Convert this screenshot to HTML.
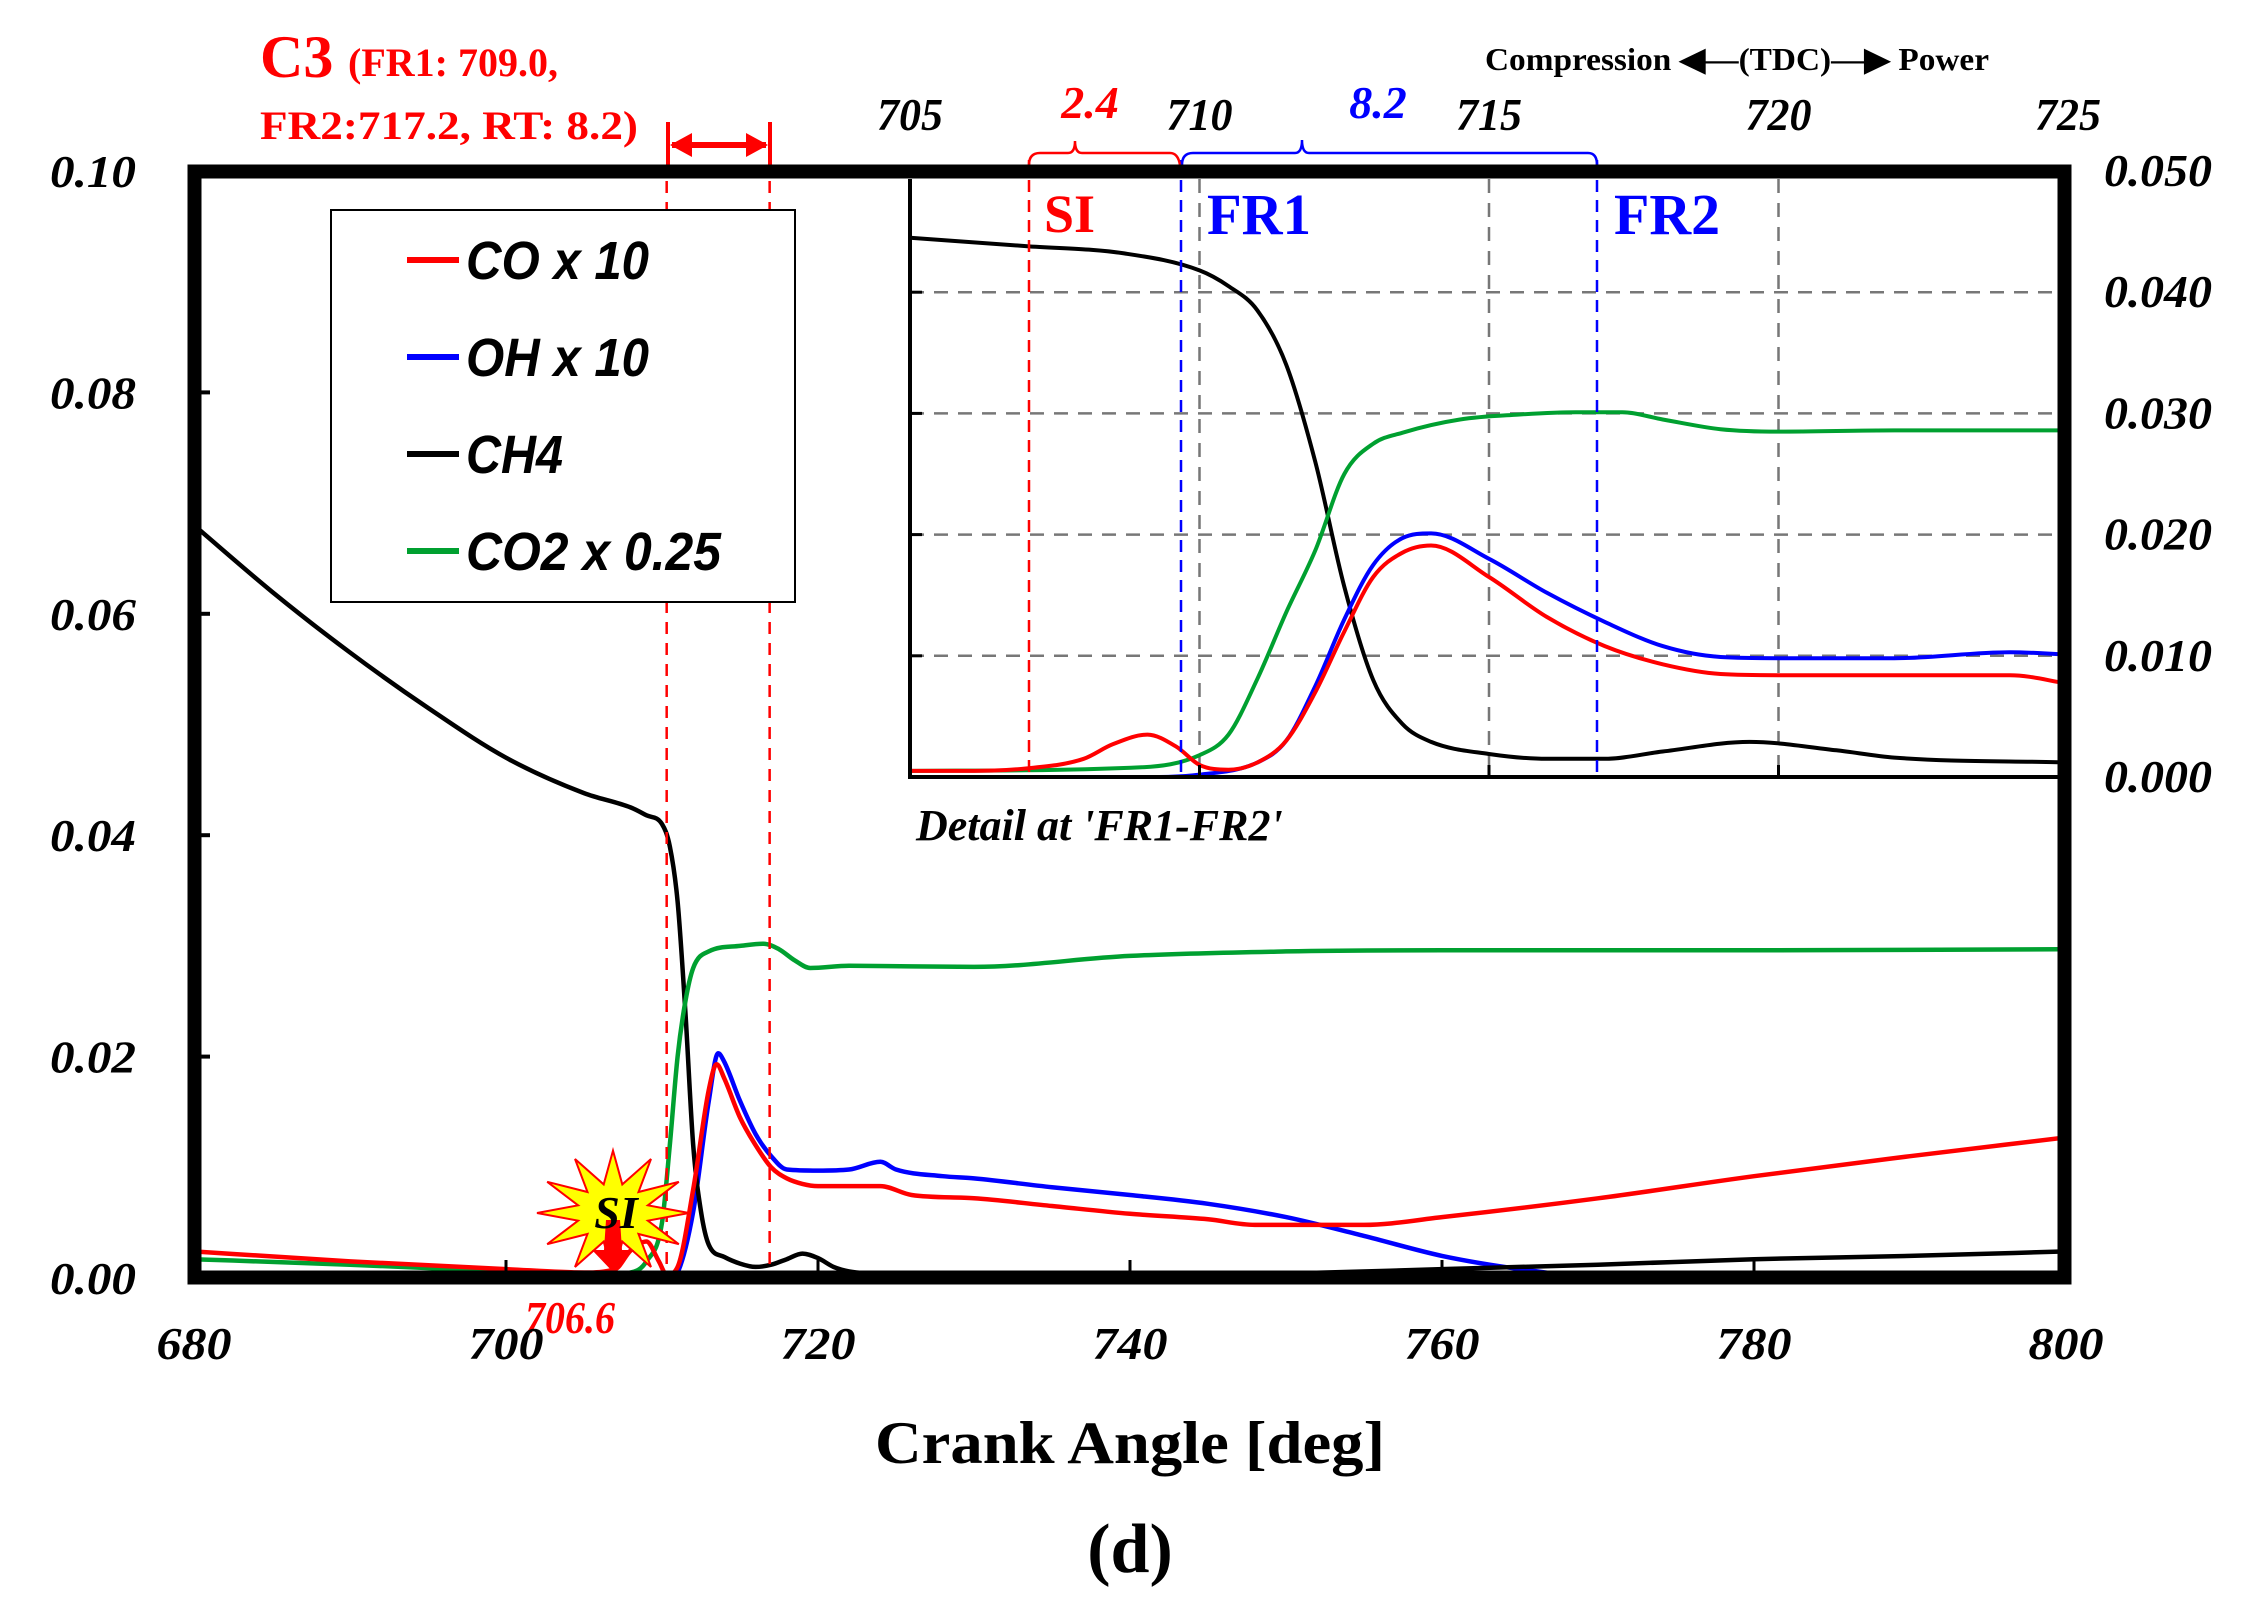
<!DOCTYPE html>
<html><head><meta charset="utf-8"><style>
html,body{margin:0;padding:0;background:#fff;width:2251px;height:1597px;overflow:hidden}
svg{display:block}
.tk{font-family:"Liberation Serif",serif;font-weight:bold;font-style:italic;font-size:46px}
.lg{font-family:"Liberation Sans Narrow","Liberation Sans",sans-serif;font-weight:bold;font-style:italic;font-size:54px;fill:#000}
.sf{font-family:"Liberation Serif",serif;font-weight:bold}
</style></head><body>
<svg id="chart" width="2251" height="1597" viewBox="0 0 2251 1597" xmlns="http://www.w3.org/2000/svg">
<defs>
<clipPath id="mainClip"><rect x="201" y="179" width="1857" height="1093"/></clipPath>
<clipPath id="insetClip"><rect x="910" y="150" width="1148" height="629"/></clipPath>
</defs>
<g id="main-lines" clip-path="url(#mainClip)"></g>
<rect x="910" y="179" width="1148" height="598" fill="#fff"/>
<g id="inset-grid"></g>
<g id="inset-lines" clip-path="url(#insetClip)"></g>
<g id="overlay"></g>
<rect x="194.5" y="171.5" width="1870" height="1106" fill="none" stroke="#000" stroke-width="14"/>
<g id="axes"></g>
<g>
<rect x="331" y="210" width="464" height="392" fill="#fff" stroke="#000" stroke-width="2"/>
<line x1="407" y1="260" x2="459" y2="260" stroke="#f00" stroke-width="6"/>
<text class="lg" x="466" y="279" textLength="183" lengthAdjust="spacingAndGlyphs">CO x 10</text>
<line x1="407" y1="357" x2="459" y2="357" stroke="#00f" stroke-width="6"/>
<text class="lg" x="466" y="376" textLength="183" lengthAdjust="spacingAndGlyphs">OH x 10</text>
<line x1="407" y1="454" x2="459" y2="454" stroke="#000" stroke-width="6"/>
<text class="lg" x="466" y="473" textLength="97" lengthAdjust="spacingAndGlyphs">CH4</text>
<line x1="407" y1="551" x2="459" y2="551" stroke="#00a030" stroke-width="6"/>
<text class="lg" x="466" y="570" textLength="255" lengthAdjust="spacingAndGlyphs">CO2 x 0.25</text>
</g>
<text class="sf" x="260" y="77" fill="#f00" font-size="60">C3</text>
<text class="sf" x="348" y="76" fill="#f00" font-size="40">(FR1: 709.0,</text>
<text class="sf" x="260" y="139" fill="#f00" font-size="40" textLength="378" lengthAdjust="spacingAndGlyphs">FR2:717.2, RT: 8.2)</text>
<text class="sf" x="1485" y="70" font-size="32" textLength="504" lengthAdjust="spacingAndGlyphs">Compression ◀—(TDC)—▶ Power</text>
<text class="sf" x="916" y="840" font-size="44" font-style="italic">Detail at 'FR1-FR2'</text>
<text class="sf" x="1130" y="1463" font-size="60" text-anchor="middle" textLength="510" lengthAdjust="spacingAndGlyphs">Crank Angle [deg]</text>
<text class="sf" x="1130" y="1572" font-size="70" font-weight="normal" text-anchor="middle">(d)</text>
</svg>
<script>
const NS="http://www.w3.org/2000/svg";
// ---- main chart data ----
const mainTicksX=[680,700,720,740,760,780,800];
const mainTicksY=[0,0.02,0.04,0.06,0.08,0.10];
const mainTickLabelsY=["0.00","0.02","0.04","0.06","0.08","0.10"];
const ch4X=[680,685,690,695,700,705,708,709,710,710.5,711,711.5,712,712.5,713,714,715,716,717,718,719,720,721,722,725,730,740,750,760,770,780,790,800];
const ch4Y=[0.068,0.062,0.0565,0.0515,0.047,0.0438,0.0425,0.0418,0.041,0.039,0.034,0.024,0.012,0.006,0.003,0.0019,0.0013,0.001,0.0012,0.0017,0.0022,0.0018,0.001,0.0006,0.0003,0.0002,0.0002,0.0004,0.0008,0.0012,0.0017,0.002,0.0024];
const co2X=[680,690,700,706,708,709,710,710.5,711,711.5,712,713,715,716.5,717.5,718.5,719.5,722,730,740,750,760,780,800];
const co2Y=[0.0017,0.0012,0.0006,0.0003,0.0005,0.0015,0.005,0.012,0.02,0.025,0.028,0.0295,0.030,0.0302,0.0297,0.0287,0.028,0.0282,0.0281,0.0291,0.0295,0.0296,0.0296,0.0297];
const coX=[680,690,700,705,707,708,709,709.8,710.3,711,712,713,713.5,714,715,716,717,718,719,720,724,726,730,735,740,745,748,755,760,770,780,790,800];
const coY=[0.0024,0.0015,0.0008,0.0005,0.0008,0.0025,0.0033,0.0015,0.0003,0.001,0.008,0.017,0.0193,0.018,0.0145,0.012,0.010,0.009,0.0085,0.0083,0.0083,0.0075,0.0072,0.0065,0.0058,0.0053,0.0048,0.0048,0.0055,0.0072,0.0092,0.011,0.0127];
const ohX=[680,710.5,711,712,713,713.6,714,715,716,717,718,720,722,724,725,728,730,735,740,745,750,755,760,765,770,800];
const ohY=[0,0,0.0005,0.006,0.016,0.0203,0.0195,0.016,0.013,0.011,0.0098,0.0097,0.0098,0.0105,0.0098,0.0092,0.009,0.0082,0.0075,0.0067,0.0055,0.0038,0.002,0.0008,0.0001,0];
// ---- inset data ----
const insTicksX=[705,710,715,720,725];
const insTicksY=[0,0.01,0.02,0.03,0.04,0.05];
const insTickLabelsY=["0.000","0.010","0.020","0.030","0.040","0.050"];
const iCh4X=[705,707,708.7,710,710.5,711,711.5,712,712.5,713,713.5,714,715,716,717,718,719.5,721,722,725];
const iCh4Y=[0.0445,0.0438,0.0432,0.0418,0.0405,0.0385,0.034,0.026,0.0157,0.008,0.0044,0.0029,0.0019,0.0015,0.0015,0.0021,0.0029,0.0022,0.0016,0.0012];
const iCo2X=[705,709,710,710.5,711,711.5,712,712.5,713,713.5,714.5,715.5,716.5,717.3,718,719,720,722,725];
const iCo2Y=[0.0005,0.0008,0.0018,0.0035,0.0081,0.0136,0.0187,0.025,0.0275,0.0284,0.0295,0.0299,0.0301,0.0301,0.0295,0.0287,0.0285,0.0286,0.0286];
const iCoX=[705,706,707,708,708.5,709.1,709.6,710,710.5,711,711.5,712,712.5,713,713.5,714,715,716,717,718,719,720,722,724,725];
const iCoY=[0.0005,0.0005,0.0007,0.0015,0.0027,0.0035,0.0025,0.001,0.0006,0.0012,0.003,0.007,0.012,0.0165,0.0185,0.0191,0.0165,0.0132,0.0108,0.0093,0.0085,0.0084,0.0084,0.0084,0.0077];
const iOhX=[705,709,710,711,711.5,712,712.5,713,713.5,714,715,716,717,718,719,720,722,724,725];
const iOhY=[0,0,0.0002,0.0012,0.003,0.0075,0.013,0.0175,0.0197,0.0201,0.018,0.0152,0.0128,0.0108,0.0099,0.0098,0.0098,0.0103,0.0101];

const mx=v=>194+(v-680)*(1872/120), my=v=>1278-v*11070;
const ix=v=>910+(v-705)*57.9, iy=v=>777-v*12120;

// monotone cubic (Fritsch-Carlson) path
function path(xs,ys,fx,fy){
  const n=xs.length,X=xs.map(fx),Y=ys.map(fy),d=[],m=new Array(n);
  for(let i=0;i<n-1;i++)d.push((Y[i+1]-Y[i])/(X[i+1]-X[i]));
  m[0]=d[0];m[n-1]=d[n-2];
  for(let i=1;i<n-1;i++){m[i]=(d[i-1]*d[i]<=0)?0:(d[i-1]+d[i])/2;}
  for(let i=0;i<n-1;i++){
    if(d[i]===0){m[i]=0;m[i+1]=0;continue;}
    const a=m[i]/d[i],b=m[i+1]/d[i],s=a*a+b*b;
    if(s>9){const t=3/Math.sqrt(s);m[i]=t*a*d[i];m[i+1]=t*b*d[i];}
  }
  let p="M"+X[0].toFixed(1)+","+Y[0].toFixed(1);
  for(let i=0;i<n-1;i++){
    const h=(X[i+1]-X[i])/3;
    p+=" C"+(X[i]+h).toFixed(1)+","+(Y[i]+m[i]*h).toFixed(1)+" "+(X[i+1]-h).toFixed(1)+","+(Y[i+1]-m[i+1]*h).toFixed(1)+" "+X[i+1].toFixed(1)+","+Y[i+1].toFixed(1);
  }
  return p;
}
function mk(parent,tag,attrs){const e=document.createElementNS(NS,tag);for(const k in attrs)e.setAttribute(k,attrs[k]);parent.appendChild(e);return e;}

const ml=document.getElementById("main-lines");
[[ohX,ohY,"#00f","oh"],[ch4X,ch4Y,"#000","ch4"],[co2X,co2Y,"#00a030","co2"],[coX,coY,"#f00","co"]].forEach(s=>{
  const e=mk(ml,"path",{d:path(s[0],s[1],mx,my),fill:"none",stroke:s[2],"stroke-width":4.5});
  
  
});
[710.3,716.9].forEach(v=>{
  const e=mk(ml,"line",{x1:mx(v),x2:mx(v),y1:160,y2:1272,stroke:"#f00","stroke-width":2.5,"stroke-dasharray":"12,9"});
  
  
});

const ig=document.getElementById("inset-grid");
insTicksY.slice(1,5).forEach(v=>{
  const e=mk(ig,"line",{x1:910,x2:2058,y1:iy(v),y2:iy(v),stroke:"#777","stroke-width":2.5,"stroke-dasharray":"14,10"});
  
  
});
insTicksX.slice(1,4).forEach(v=>{
  const e=mk(ig,"line",{x1:ix(v),x2:ix(v),y1:179,y2:777,stroke:"#777","stroke-width":2.5,"stroke-dasharray":"14,10"});
  
  
});
const il=document.getElementById("inset-lines");
[[iCh4X,iCh4Y,"#000","ch4"],[iCo2X,iCo2Y,"#00a030","co2"],[iOhX,iOhY,"#00f","oh"],[iCoX,iCoY,"#f00","co"]].forEach(s=>{
  const e=mk(il,"path",{d:path(s[0],s[1],ix,iy),fill:"none",stroke:s[2],"stroke-width":4});
  
  
});
const ax=document.getElementById("axes");
let e=mk(ax,"line",{x1:910,x2:910,y1:179,y2:779,stroke:"#000","stroke-width":4});


e=mk(ax,"line",{x1:908,x2:2058,y1:777,y2:777,stroke:"#000","stroke-width":4});


insTicksY.forEach((v,i)=>{
  const t=mk(ax,"text",{class:"tk",x:2212,y:iy(v)+15,"text-anchor":"end",textLength:108,lengthAdjust:"spacingAndGlyphs","font-size":42,fill:"#000"});
  t.textContent=insTickLabelsY[i];
  
  
  const k=mk(ax,"line",{x1:910,x2:922,y1:iy(v),y2:iy(v),stroke:"#000","stroke-width":3});
  
  
});
insTicksX.forEach(v=>{
  const t=mk(ax,"text",{class:"tk",x:ix(v),y:130,"text-anchor":"middle","font-size":42,textLength:66,lengthAdjust:"spacingAndGlyphs",fill:"#000"});
  t.textContent=v;
  
  
  if(v>705&&v<725){const k=mk(ax,"line",{x1:ix(v),x2:ix(v),y1:765,y2:777,stroke:"#000","stroke-width":3});
  
  }
});
mainTicksY.forEach((v,i)=>{
  const t=mk(ax,"text",{class:"tk",x:136,y:my(v)+16,"text-anchor":"end",textLength:86,lengthAdjust:"spacingAndGlyphs",fill:"#000"});
  t.textContent=mainTickLabelsY[i];
  
  
  const k=mk(ax,"line",{x1:201,x2:210,y1:my(v),y2:my(v),stroke:"#000","stroke-width":4});
  
  
});
mainTicksX.forEach(v=>{
  const t=mk(ax,"text",{class:"tk",x:mx(v),y:1359,"text-anchor":"middle",textLength:75,lengthAdjust:"spacingAndGlyphs",fill:"#000"});
  t.textContent=v;
  
  
  const k=mk(ax,"line",{x1:mx(v),x2:mx(v),y1:1260,y2:1271,stroke:"#000","stroke-width":3});
  
  
});

const ov=document.getElementById("overlay");
function add(tag,attrs,name,txt){const el=mk(ov,tag,attrs);if(txt)el.textContent=txt;return el;}
add("line",{x1:1029,x2:1029,y1:160,y2:777,stroke:"#f00","stroke-width":2.5,"stroke-dasharray":"12,8"},"inset-si-line");
add("line",{x1:1181,x2:1181,y1:160,y2:777,stroke:"#00f","stroke-width":2.5,"stroke-dasharray":"12,8"},"inset-fr1-line");
add("line",{x1:1597,x2:1597,y1:160,y2:777,stroke:"#00f","stroke-width":2.5,"stroke-dasharray":"12,8"},"inset-fr2-line");
add("path",{d:"M1029,165 Q1029,153 1040,153 L1068,153 Q1075,153 1075,141 Q1075,153 1082,153 L1170,153 Q1178,153 1180,165",fill:"none",stroke:"#f00","stroke-width":2.5},"si-brace");
add("path",{d:"M1182,165 Q1182,153 1193,153 L1295,153 Q1302,153 1302,140 Q1302,153 1309,153 L1588,153 Q1597,153 1597,165",fill:"none",stroke:"#00f","stroke-width":2.5},"fr-brace");
add("text",{class:"tk",x:1090,y:118,"text-anchor":"middle",fill:"#f00","font-size":42},"si-duration-label","2.4");
add("text",{class:"tk",x:1378,y:118,"text-anchor":"middle",fill:"#00f","font-size":42},"fr-duration-label","8.2");
add("text",{class:"sf",x:1044,y:232,fill:"#f00","font-size":54},"inset-si-label","SI");
add("text",{class:"sf",x:1207,y:234,fill:"#00f","font-size":58,textLength:104,lengthAdjust:"spacingAndGlyphs"},"inset-fr1-label","FR1");
add("text",{class:"sf",x:1614,y:234,fill:"#00f","font-size":58,textLength:106,lengthAdjust:"spacingAndGlyphs"},"inset-fr2-label","FR2");
add("line",{x1:668,x2:668,y1:122,y2:165,stroke:"#f00","stroke-width":4},"rt-bracket-left");
add("line",{x1:770,x2:770,y1:122,y2:165,stroke:"#f00","stroke-width":4},"rt-bracket-right");
add("path",{d:"M672,145 L766,145",stroke:"#f00","stroke-width":6},"rt-arrow-shaft");
add("path",{d:"M670,145 L692,133 L692,157z M768,145 L746,133 L746,157z",fill:"#f00"},"rt-arrow-heads");
let pts=[];for(let i=0;i<24;i++){const r=i%2?38:80,a=i*Math.PI/12-Math.PI/2;pts.push((613+r*Math.cos(a)*0.95).toFixed(1)+","+(1213+r*Math.sin(a)*0.78).toFixed(1));}
add("polygon",{points:pts.join(" "),fill:"#ff0",stroke:"#f00","stroke-width":2},"si-star");
add("path",{d:"M606,1220 L620,1220 L622,1250 L634,1250 L613,1272 L592,1250 L604,1250z",fill:"#f00"},"si-arrow");
add("text",{class:"tk",x:616,y:1228,"text-anchor":"middle","font-size":36,fill:"#000"},"si-star-label","SI");
add("text",{class:"tk",x:570,y:1333,"text-anchor":"middle",fill:"#f00","font-size":38,textLength:90,lengthAdjust:"spacingAndGlyphs"},"si-angle-label","706.6");
</script>
</body></html>
